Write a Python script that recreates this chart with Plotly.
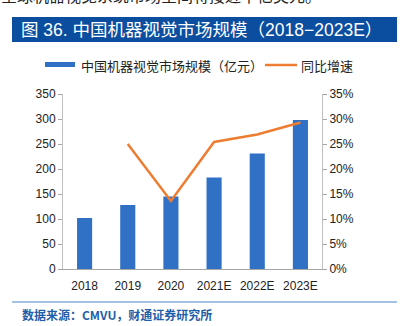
import plotly.graph_objects as go

years = ["2018", "2019", "2020", "2021E", "2022E", "2023E"]
market_size = [102, 128, 145, 183, 231, 298]
growth = [None, 25.0, 13.6, 25.4, 26.9, 29.3]
left_ticks = [0, 50, 100, 150, 200, 250, 300, 350]
right_ticks = [0, 5, 10, 15, 20, 25, 30, 35]

W, H = 407, 326
L, R, T, B = 63, 85, 94, 57
PW, PH = W - L - R, H - T - B

def px(x):
    return (x - L) / PW

def py(y):
    return (H - B - y) / PH

FONT = "Liberation Sans, Arial, Noto Sans CJK SC"
CJK = "Noto Sans CJK SC, Liberation Sans"
BAR = "#3071C6"
ORANGE = "#ED7D31"
DARK = "#0B4EA0"

fig = go.Figure()
fig.add_trace(go.Bar(x=years, y=market_size, marker_color=BAR, marker_line_width=0,
                     name="中国机器视觉市场规模（亿元）", showlegend=False))
fig.add_trace(go.Scatter(x=years, y=growth, yaxis="y2", mode="lines",
                         line=dict(color=ORANGE, width=2.5), name="同比增速", showlegend=False))

fig.update_layout(
    width=W, height=H,
    margin=dict(l=L, r=R, t=T, b=B, pad=0),
    paper_bgcolor="white", plot_bgcolor="white",
    bargap=0.65,
    font=dict(family=FONT, size=12, color="#222222"),
    xaxis=dict(showline=True, linecolor="#A6A6A6", linewidth=1, ticks="", showgrid=False,
               tickfont=dict(size=12, color="#222222"), ticklabelstandoff=6),
    yaxis=dict(range=[0, 350], tickvals=left_ticks, showline=True, linecolor="#BFBFBF",
               ticks="outside", ticklen=4, tickcolor="#A6A6A6", showgrid=False, zeroline=False,
               tickfont=dict(size=12, color="#222222")),
    yaxis2=dict(range=[0, 35], tickvals=right_ticks, ticktext=[f"{v}%" for v in right_ticks],
                overlaying="y", side="right", showline=True, linecolor="#BFBFBF",
                ticks="outside", ticklen=4, tickcolor="#A6A6A6", showgrid=False, zeroline=False,
                tickfont=dict(size=12, color="#222222")),
)

shapes = [
    dict(type="rect", xref="paper", yref="paper", x0=px(12), x1=px(397), y0=py(42), y1=py(17),
         fillcolor=DARK, line_width=0, layer="below"),
    dict(type="line", xref="paper", yref="paper", x0=px(12), x1=px(397), y0=py(302), y1=py(302),
         line=dict(color="#4A86C8", width=1.2)),
    dict(type="rect", xref="paper", yref="paper", x0=px(45), x1=px(75), y0=py(67), y1=py(62),
         fillcolor=BAR, line_width=0),
    dict(type="line", xref="paper", yref="paper", x0=px(265), x1=px(297), y0=py(65), y1=py(65),
         line=dict(color=ORANGE, width=2.5)),
]
fig.update_layout(shapes=shapes)

ann = [
    dict(text="全球机器视觉系统市场空间将接近千亿美元。", x=px(-1), y=py(-5), xanchor="left", yanchor="middle",
         font=dict(family=CJK, size=16, color="#222222")),
    dict(text="图 36. 中国机器视觉市场规模（2018−2023E）", x=px(19), y=py(29.5), xanchor="left", yanchor="middle",
         font=dict(family="Liberation Sans, Noto Sans CJK SC", size=17.5, color="white")),
    dict(text="中国机器视觉市场规模（亿元）", x=px(79), y=py(65), xanchor="left", yanchor="middle",
         font=dict(family=CJK, size=13, color="#222222")),
    dict(text="同比增速", x=px(299), y=py(65), xanchor="left", yanchor="middle",
         font=dict(family=CJK, size=13, color="#222222")),
    dict(text="<b>数据来源：CMVU，财通证券研究所</b>", x=px(20), y=py(314), xanchor="left", yanchor="middle",
         font=dict(family=CJK, size=12, color="#1F5EA8")),
]
for a in ann:
    a.update(xref="paper", yref="paper", showarrow=False)
fig.update_layout(annotations=ann)

fig.write_html("out.html")
